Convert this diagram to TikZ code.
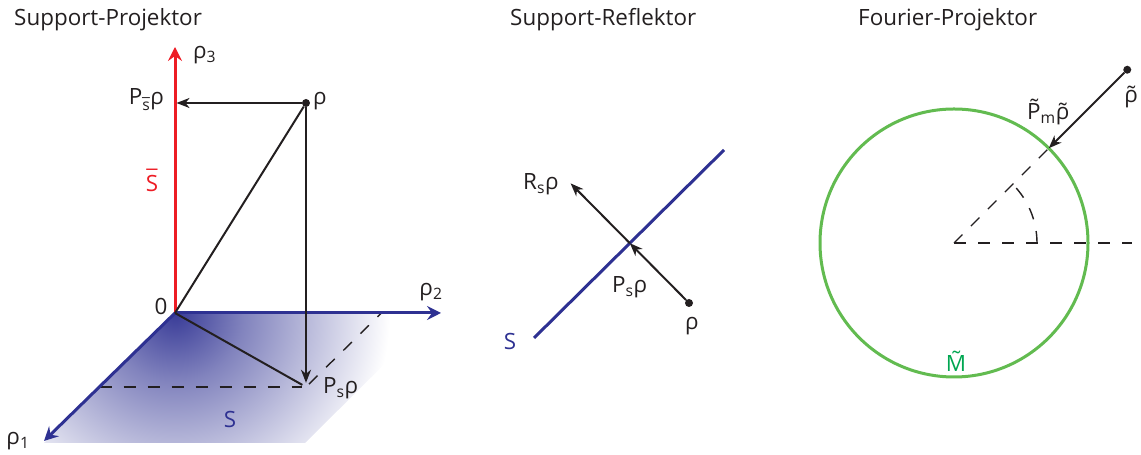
\documentclass[tikz,border=0pt]{standalone}
\usepackage{fontspec}
\setmainfont{Open Sans}
\usetikzlibrary{arrows.meta,calc}
\definecolor{axisred}{RGB}{237,28,36}
\definecolor{planeblue}{RGB}{46,49,146}
\definecolor{ringgreen}{RGB}{98,187,80}
\definecolor{labgreen}{RGB}{0,166,81}
\definecolor{ink}{RGB}{35,31,32}
\newcommand\sub[1]{\textsubscript{#1}}
\newcommand\tild[1]{{\accent"02DC #1}}
\newcommand\barr[1]{{\accent"00AF #1}}
\pgfdeclareradialshading{planefade}{\pgfpoint{0bp}{0bp}}{%
  color(0bp)=(planeblue!95); color(8bp)=(planeblue!60);
  color(25bp)=(white); color(50bp)=(white)}

\begin{document}
\begin{tikzpicture}[x=1bp,y=1bp,
                    lbl/.style={inner sep=0pt,text=ink,
                                font=\fontsize{22.5}{27}\selectfont},
                    vec/.style={ink,line width=2bp,
                                -{Stealth[length=13bp,width=10bp,inset=4bp]}},
                    axis/.style={line width=3bp,
                                 -{Stealth[length=14bp,width=14bp,inset=5bp]}},
                    guide/.style={ink,line width=1.4bp,
                                  dash pattern=on 12bp off 12bp},
                    pt/.style={circle,fill=ink,inner sep=0pt,minimum size=8bp}]
  \useasboundingbox (0,0) rectangle (1141,455);

  % --- Support-Projektor
  \node[lbl,anchor=base west] (tproj) at (14,429) {Support-Projektor};
  \coordinate (O) at (175,142);
  \coordinate (r3) at (175,408);
  \coordinate (r2) at (441,142);
  \coordinate (r1) at (44,14);
  \node[pt] (rho) at (306,352) {};
  \node[pt] (Ps) at (306,68) {};
  \coordinate (Psbar) at (176.5,352);
  \coordinate (foot1) at (99.5,68);
  \coordinate (foot2) at ($(Ps)+(O)-(foot1)$);
  \begin{scope}
    \clip (O) -- (436,142) -- (305,12) -- (44,12) -- cycle;
    \shade[shading=planefade] (O) circle (215);
  \end{scope}
  \draw[guide] (foot1) -- (Ps);
  \draw[guide] (Ps) -- (foot2);
  \draw[axis,axisred] (O) -- (r3);
  \draw[axis,planeblue] (O) -- (r2);
  \draw[axis,planeblue] (O) -- (r1);
  \draw[ink,line width=2bp] (O) -- (rho);
  \draw[ink,line width=2bp] (O) -- (Ps);
  \draw[vec] (rho) -- (Psbar);
  \draw[vec] (rho) -- (Ps);
  \node[lbl,anchor=west] (l3) at (193,400) {ρ\sub{3}};
  \node[lbl] (l2) at (431,163) {ρ\sub{2}};
  \node[lbl] (l1) at (18,14) {ρ\sub{1}};
  \node[lbl] (l0) at (161,149) {0};
  \node[lbl,anchor=base west] (lrho) at (313,350) {ρ};
  \node[lbl,anchor=base east] (lpsbar) at (164,350) {P\sub{\barr{s}}ρ};
  \node[lbl,anchor=base west] (lps) at (323,61) {P\sub{s}ρ};
  \node[lbl,anchor=base,text=planeblue] (lS) at (230,27) {S};
  \node[lbl,anchor=base,text=axisred] (lSbar) at (152,263) {\barr{S}};

  % --- Support-Reflektor
  \node[lbl,anchor=base west] (trefl) at (510,429) {Support-Reflektor};
  \coordinate (sA) at (534,117);
  \coordinate (sB) at (724,305);
  \node[pt] (rho2) at (689,152) {};
  \coordinate (P2) at ($(sA)!(rho2)!(sB)$);
  \coordinate (R2) at ($(rho2)!2!(P2)$);
  \draw[planeblue,line width=3bp] (sA) -- (sB);
  \draw[vec] (rho2) -- (P2);
  \draw[vec] (P2) -- (R2);
  \node[lbl,anchor=base,text=planeblue] (lS2) at (510,105) {S};
  \node[lbl,anchor=base] (lrho2) at (692,125) {ρ};
  \node[lbl,anchor=base west] (lps2) at (612,162) {P\sub{s}ρ};
  \node[lbl,anchor=base west] (lrs2) at (523,265) {R\sub{s}ρ};

  % --- Fourier-Projektor
  \node[lbl,anchor=base west] (tfour) at (858,429) {Fourier-Projektor};
  \coordinate (C) at (954,212);
  \coordinate (M) at ($(C)+(45:134)$);
  \coordinate (hz) at (1132,212);
  \node[pt] (rt) at ($(C)+(45:245)$) {};
  \draw[guide] (C) -- (hz);
  \draw[guide] (C) -- (M);
  \draw[guide] ($(C)+(83,0)$) arc[start angle=0,end angle=45,radius=83];
  \draw[ringgreen,line width=3bp] (C) circle (134);
  \draw[vec] (rt) -- (M);
  \node[lbl,anchor=base] (lrt) at (1131,352) {\tild{ρ}};
  \node[lbl,anchor=base west] (lpm) at (1027,335) {\tild{P}\sub{m}\tild{ρ}};
  \node[lbl,anchor=base,text=labgreen] (lM) at (956,83) {\tild{M}};
\end{tikzpicture}
\end{document}
